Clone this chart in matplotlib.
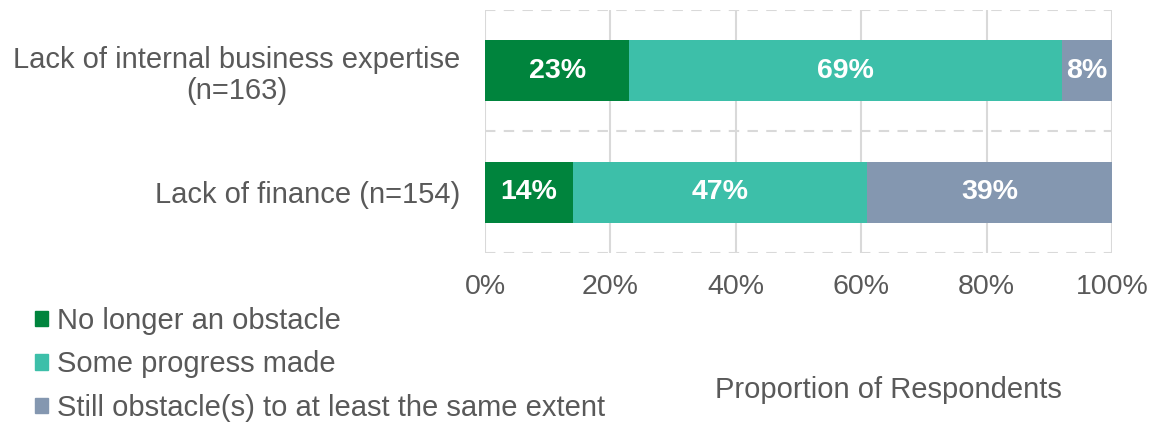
import matplotlib
matplotlib.use("Agg")
import matplotlib.pyplot as plt
from matplotlib.patches import Patch

plt.rcParams['font.family'] = ['Liberation Sans', 'DejaVu Sans']

# data
categories = ["Lack of finance (n=154)", "Lack of internal business expertise\n(n=163)"]
series_names = ["No longer an obstacle", "Some progress made",
                "Still obstacle(s) to at least the same extent"]
no_longer = [14, 23]
some_progress = [47, 69]
still_obstacle = [39, 8]
colors = ["#00843D", "#3DBFA9", "#8497B0"]
xticks = [0, 20, 40, 60, 80, 100]

fig = plt.figure(figsize=(11.55, 4.23), dpi=100)
ax = fig.add_axes([485 / 1155, 1 - 253 / 423, 627 / 1155, 243 / 423])

ypos = list(range(len(categories)))
left = [0] * len(categories)
for vals, col, name in zip([no_longer, some_progress, still_obstacle], colors, series_names):
    ax.barh(ypos, vals, left=left, height=0.5, color=col, label=name, zorder=3)
    for y, v, l in zip(ypos, vals, left):
        ax.text(l + v / 2, y, f"{v}%", ha="center", va="center", color="white",
                fontsize=20.5, fontweight="bold", zorder=4)
    left = [a + b for a, b in zip(left, vals)]

ax.set_xlim(0, 100)
ax.set_ylim(-0.5, 1.5)
ax.set_xticks(xticks)
ax.set_xticklabels([f"{t}%" for t in xticks], fontsize=20.5, color="#595959")
ax.set_yticks(ypos)
ax.set_yticklabels(categories, fontsize=21, color="#595959", multialignment="center",
                   linespacing=1.15)
ax.tick_params(axis="both", length=0)
ax.tick_params(axis="x", pad=15)
ax.tick_params(axis="y", pad=18)

# gridlines: solid verticals, dashed separators between categories
for t in xticks:
    ax.axvline(t, color="#D9D9D9", lw=1.5, zorder=1)
for y in [-0.5, 0.5, 1.5]:
    ax.axhline(y, color="#D9D9D9", lw=1.5, ls=(0, (5, 4)), zorder=1)
for s in ax.spines.values():
    s.set_visible(False)

handles = [Patch(color=c) for c in colors]
fig.legend(handles, series_names, loc="upper left", bbox_to_anchor=(35 / 1155, 1 - 307 / 423),
           frameon=False, fontsize=21, handlelength=0.45, handleheight=0.45,
           handletextpad=0.3, labelspacing=0.53, labelcolor="#595959", borderaxespad=0,
           borderpad=0)

fig.text(888 / 1155, 1 - 390 / 423, "Proportion of Respondents", ha="center", va="center",
         fontsize=21, color="#595959")

fig.savefig("out.png", dpi=100)
